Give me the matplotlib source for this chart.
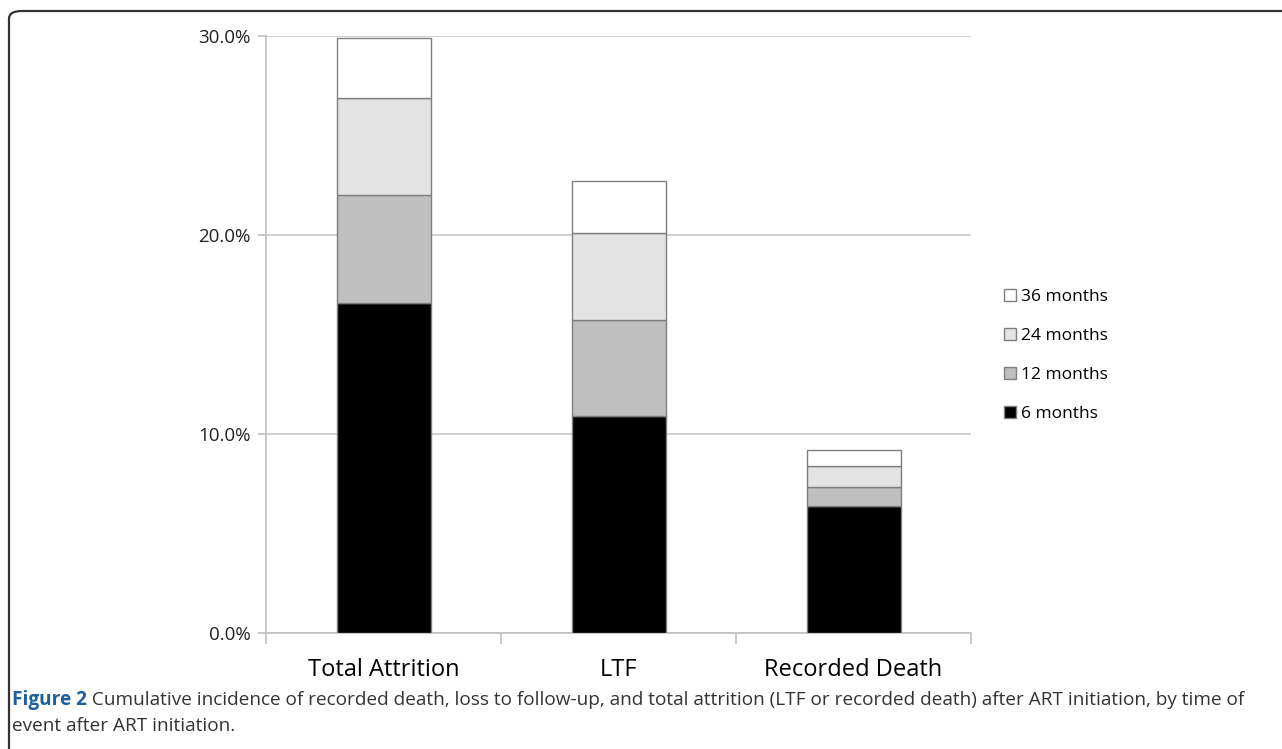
import matplotlib
matplotlib.use("Agg")
import matplotlib.pyplot as plt
from matplotlib.patches import FancyBboxPatch
from matplotlib.ticker import FuncFormatter
import numpy as np

# cumulative incidence (%), split into increments per period
categories = ["Total Attrition", "LTF", "Recorded Death"]
periods = ["6 months", "12 months", "24 months", "36 months"]
m6 = [16.6, 10.9, 6.35]
m12 = [5.4, 4.8, 1.0]
m24 = [4.9, 4.4, 1.05]
m36 = [3.0, 2.6, 0.8]
yticks = [0, 10, 20, 30]

colors = ["#000000", "#bfbfbf", "#e3e3e3", "#ffffff"]
caption_bold = "Figure 2"
caption_rest = (" Cumulative incidence of recorded death, loss to follow-up, and total attrition "
                "(LTF or recorded death) after ART initiation, by time of")
caption_line2 = "event after ART initiation."

plt.rcParams["font.family"] = ["Open Sans", "DejaVu Sans"]

fig = plt.figure(figsize=(12.82, 7.49), dpi=100)
ax = fig.add_axes([266 / 1282, 116.3 / 749, 705 / 1282, 596.7 / 749])

x = np.arange(len(categories))
bottom = np.zeros(len(categories))
handles = []
for vals, col, lab in zip([m6, m12, m24, m36], colors, periods):
    b = ax.bar(x, vals, width=0.4, bottom=bottom, color=col,
               edgecolor="#7f7f7f", linewidth=1.0, label=lab, zorder=3)
    handles.append(b)
    bottom += np.array(vals)

ax.set_xlim(-0.5, 2.5)
ax.set_ylim(0, 30)
ax.set_yticks(yticks)
ax.yaxis.set_major_formatter(FuncFormatter(lambda v, p: f"{v:.1f}%"))
ax.grid(axis="y", color="#c8c8c8", linewidth=1.2, zorder=0)
for s in ["top", "right"]:
    ax.spines[s].set_visible(False)
for s in ["left", "bottom"]:
    ax.spines[s].set_color("#c0c0c0")
    ax.spines[s].set_linewidth(1.2)

ax.set_xticks([-0.5, 0.5, 1.5, 2.5])
ax.set_xticklabels([])
ax.tick_params(axis="x", length=8, color="#c0c0c0", width=1.2)
ax.set_xticks(x, minor=True)
ax.set_xticklabels(categories, minor=True, fontsize=17)
ax.tick_params(axis="x", which="minor", length=0, pad=18)
ax.tick_params(axis="y", length=6, color="#c0c0c0", width=1.2, labelsize=13.5,
               pad=5, labelcolor="#222222")

leg = fig.legend(handles[::-1], periods[::-1], loc="upper left",
                 bbox_to_anchor=(988 / 1282, 1 - 273 / 749), frameon=False,
                 fontsize=12.5, handlelength=0.7, handleheight=0.7,
                 handletextpad=0.3, labelspacing=1.32)

# caption
cap_size = 13.7
t = fig.text(12 / 1282, 1 - 705 / 749, caption_bold, fontsize=cap_size, fontweight="bold",
             color="#1f5f9e", va="baseline")
fig.canvas.draw()
bb = t.get_window_extent()
fig.text(bb.x1 / 1282, 1 - 705 / 749, caption_rest, fontsize=cap_size, color="#333333",
         va="baseline")
fig.text(12 / 1282, 1 - 731 / 749, caption_line2, fontsize=cap_size, color="#333333",
         va="baseline")

# rounded frame (top and left edges visible)
frame = FancyBboxPatch((9 / 1282, -0.05), 1.2, 1 - 11 / 749 + 0.05,
                       boxstyle="round,pad=0,rounding_size=0.01",
                       transform=fig.transFigure, fill=False,
                       edgecolor="#333333", linewidth=1.6, clip_on=False)
fig.patches.append(frame)

fig.savefig("out.png", dpi=100)
